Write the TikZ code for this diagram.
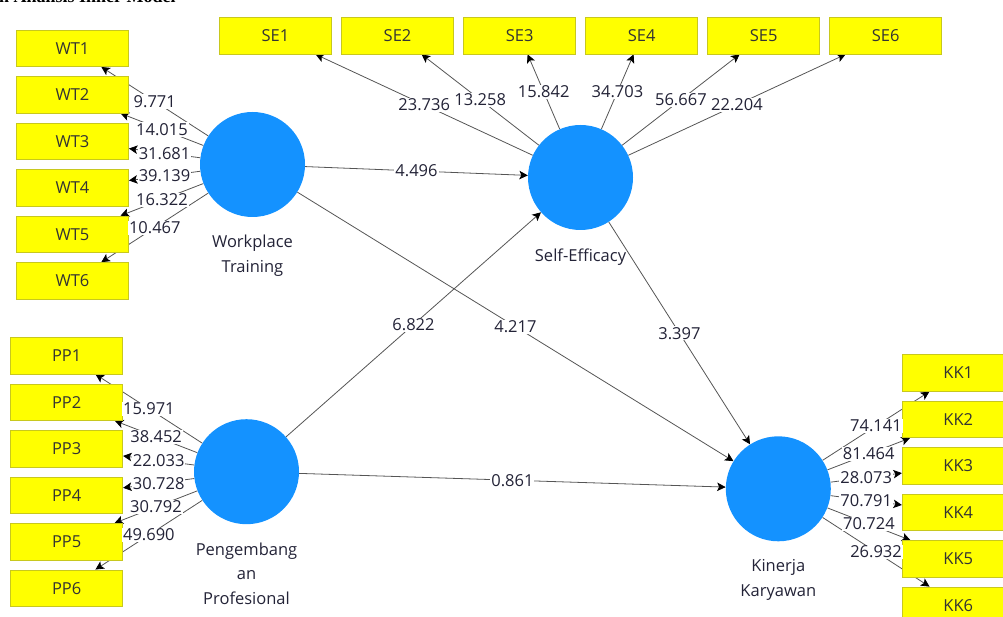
\documentclass[tikz,border=0pt]{standalone}
\usepackage{fontspec}
\setmainfont{Open Sans}
\newfontfamily\captionfont{Liberation Serif}
\usetikzlibrary{positioning,arrows.meta,backgrounds}
\definecolor{lvblue}{RGB}{20,146,255}
\definecolor{indyellow}{RGB}{255,255,0}
\definecolor{indborder}{RGB}{200,200,30}
\definecolor{pathgray}{RGB}{85,85,85}
\definecolor{valtext}{RGB}{35,35,55}
\tikzstyle{pls model}=[
    x=1pt,y=-1pt,
    every node/.style={
        align=center,
        font=\fontsize{16.5}{24.5}\selectfont,
    },
    lv/.style={circle, fill=lvblue, minimum size=105pt, inner sep=0pt},
    ind/.style={rectangle, fill=indyellow, draw=indborder, line width=0.8pt,
        minimum width=112pt, minimum height=36.5pt, inner sep=0pt, text=black!80},
    lvname/.style={inner sep=0pt, text=valtext},
    tline/.style={draw=pathgray, line width=0.8pt,
        -{Stealth[length=8.5pt,width=8.5pt,inset=2pt,color=black]}},
    tval/.style={fill=white, inner sep=1pt, text=valtext},
]
% line on the background layer, t-value on top of it
\newcommand{\tedge}[3]{%
    \begin{pgfonlayer}{background}\draw[tline] (#1) -- (#2);\end{pgfonlayer}%
    \path (#1) -- node[tval] {#3} (#2);}

\begin{document}
\begin{tikzpicture}[pls model]
        \useasboundingbox (0,0) rectangle (1003,617);
        \node[anchor=base west, inner sep=0pt, text=black,
            font=\captionfont\bfseries\fontsize{18}{20}\selectfont] (caption) at (-1,3) {n Analisis Inner Model};

        % latent variables
        \node[lv] (WT) at (252.5,164.5) {};
        \node[lv] (SE) at (580.5,177.5) {};
        \node[lv] (PP) at (246.5,471.7) {};
        \node[lv] (KK) at (778.3,488.8) {};
        \node[lvname, below=18pt of WT] (WTname) {Workplace\\Training};
        \node[lvname, below=18pt of SE] (SEname) {Self-Efficacy};
        \node[lvname, below=18pt of PP] (PPname) {Pengembang\\an\\Profesional};
        \node[lvname, below=18pt of KK] (KKname) {Kinerja\\Karyawan};

        % indicators
        \foreach \i in {1,...,6} {
            \node[ind] (WT\i) at (72.5,{48.3+46.5*(\i-1)}) {WT\i};
            \node[ind] (SE\i) at ({275.5+122.05*(\i-1)},35.7) {SE\i};
            \node[ind] (PP\i) at (66.7,{355.7+46.5*(\i-1)}) {PP\i};
            \node[ind] (KK\i) at (958.3,{373+46.45*(\i-1)}) {KK\i};
        }

        % outer model
        \foreach \i/\t in {1/9.771,2/14.015,3/31.681,4/39.139,5/16.322,6/10.467}
            {\tedge{WT}{WT\i}{\t}}
        \foreach \i/\t in {1/23.736,2/13.258,3/15.842,4/34.703,5/56.667,6/22.204}
            {\tedge{SE}{SE\i}{\t}}
        \foreach \i/\t in {1/15.971,2/38.452,3/22.033,4/30.728,5/30.792,6/49.690}
            {\tedge{PP}{PP\i}{\t}}
        \foreach \i/\t in {1/74.141,2/81.464,3/28.073,4/70.791,5/70.724,6/26.932}
            {\tedge{KK}{KK\i}{\t}}

        % inner model
        \tedge{WT}{SE}{4.496}
        \tedge{WT}{KK}{4.217}
        \tedge{PP}{SE}{6.822}
        \tedge{PP}{KK}{0.861}
        \tedge{SE}{KK}{3.397}
    \end{tikzpicture}
\end{document}
